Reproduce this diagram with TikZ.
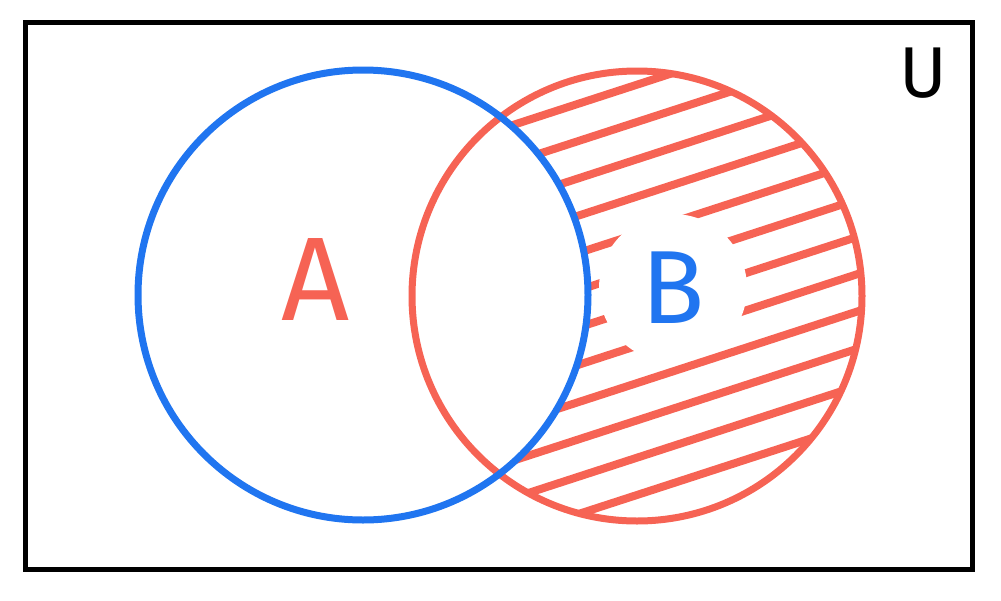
\documentclass[tikz,border=0pt]{standalone}
\usepackage{fontspec}
\setmainfont{Fira Sans}
\usetikzlibrary{positioning}

\definecolor{setblue}{RGB}{32,117,240}
\definecolor{setred}{RGB}{246,99,84}

\begin{document}
\begin{tikzpicture}[
		x=1pt, y=-1pt,
		setcircle/.style={circle, minimum size=450pt, inner sep=0pt, outer sep=0pt, line width=7pt},
		hatch/.style={setred, line width=8pt},
		setlabel/.style={inner sep=0pt, font=\fontsize{#1}{#1}\selectfont},
	]
	\useasboundingbox (0,0) rectangle (1001,600);
	\coordinate (cA) at (363,295);
	\coordinate (cB) at (637,296);

	% universe
	\draw[line width=5pt] (25,22) rectangle (972,569);

	% B without A
	\begin{scope}
		\clip (cB) circle (225pt);
		\foreach \k in {0,...,11}
			\draw[hatch] ({380}, {291.7+37.3*\k-0.325*380}) -- ({900}, {291.7+37.3*\k-0.325*900});
	\end{scope}
	\fill[white] (cA) circle (225pt);
	\node (blobB) [circle, fill=white, minimum size=148pt, inner sep=0pt] at (673,288) {};

	\node (setB) [setcircle, draw=setred] at (cB) {};
	\node (setA) [setcircle, draw=setblue] at (cA) {};

	\node (labA) [setlabel=119, text=setred] at (316,279) {A};
	\node (labB) [setlabel=104, text=setblue] at (blobB) {B};
	\node (labU) [setlabel=72] at (923,73) {U};
\end{tikzpicture}
\end{document}
